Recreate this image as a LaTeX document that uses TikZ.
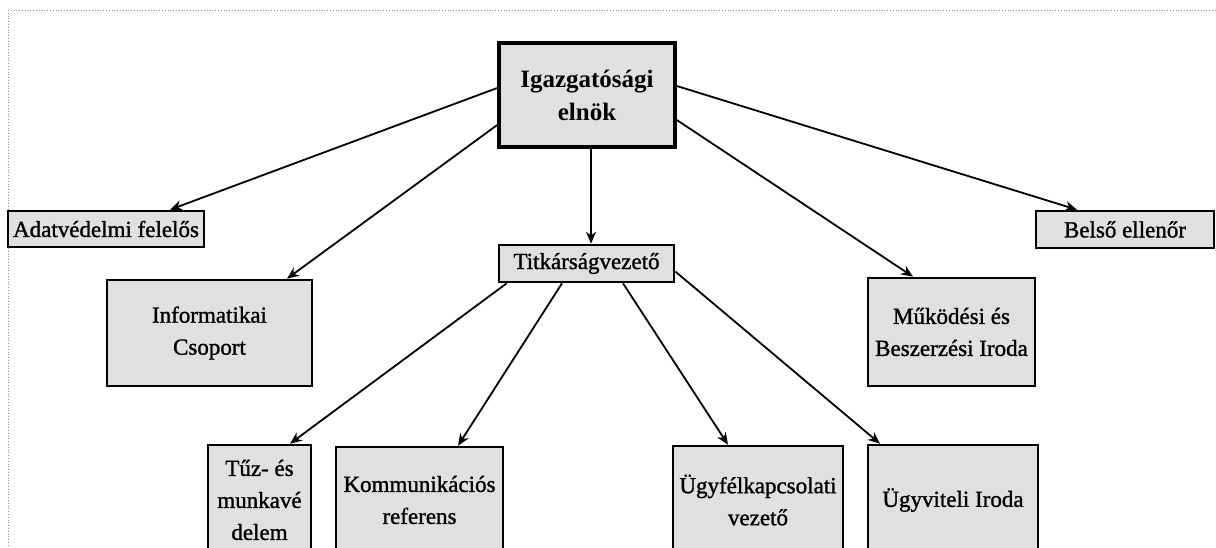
\documentclass[tikz,border=0pt]{standalone}
\usepackage{fontspec}
\setmainfont{Liberation Serif}
\newfontfamily\scanfont{Liberation Serif}[RawFeature={embolden=1.2}]
\usetikzlibrary{arrows.meta}
\tikzset{
  box/.style={draw=black, line width=2.6pt, fill=black!12, align=center,
    inner sep=0pt, font=\fontsize{23}{32}\selectfont\scanfont},
  topbox/.style={box, line width=3.6pt, font=\fontsize{25}{33}\selectfont\bfseries},
  conn/.style={line width=1.8pt, -{Stealth[length=12pt,width=10pt]}},
  scanline/.style={black!45, line width=0.8pt, dotted}
}
\begin{document}
\begin{tikzpicture}[x=1pt,y=-1pt]
\useasboundingbox (0,0) rectangle (1216,548);
\draw[scanline] (8,10) -- (1216,10);
\draw[scanline] (8,10) -- (8,548);

\node[topbox, minimum width=176pt, minimum height=104pt] (top) at (587,95) {Igazgatósági\\elnök};
\node[box, minimum width=196pt, minimum height=36pt] (adat) at (106,229) {Adatvédelmi felelős};
\node[box, minimum width=205pt, minimum height=106pt] (info) at (209.5,333) {Informatikai\\Csoport};
\node[box, minimum width=175pt, minimum height=37pt] (titk) at (586.5,263.5) {Titkárságvezető};
\node[box, minimum width=178pt, minimum height=37pt] (belso) at (1125,229.5) {Belső ellenőr};
\node[box, minimum width=167pt, minimum height=108pt] (mukod) at (951.5,332) {Működési és\\Beszerzési Iroda};
\node[box, minimum width=103pt, minimum height=110pt] (tuz) at (259.5,500) {Tűz- és\\munkavé\\delem};
\node[box, minimum width=167pt, minimum height=106pt] (komm) at (419.5,500) {Kommunikációs\\referens};
\node[box, minimum width=170pt, minimum height=108pt] (ugyf) at (758,500) {Ügyfélkapcsolati\\vezető};
\node[box, minimum width=170pt, minimum height=110pt] (ugyv) at (953,500) {Ügyviteli Iroda};

\draw[conn] ([yshift=7pt]top.west) -- ([xshift=64pt]adat.north);
\draw[conn] ([yshift=-30pt]top.west) -- ([xshift=77.5pt]info.north);
\draw[conn] ([xshift=4pt]top.south) -- ([xshift=4.5pt]titk.north);
\draw[conn] ([yshift=9pt]top.east) -- ([xshift=-48pt]belso.north);
\draw[conn] ([yshift=-25pt]top.east) -- ([xshift=-38.5pt]mukod.north);

\draw[conn] ([xshift=9pt]titk.south west) -- ([xshift=30.5pt]tuz.north);
\draw[conn] ([xshift=-24.5pt]titk.south) -- ([xshift=38.5pt]komm.north);
\draw[conn] ([xshift=36.5pt]titk.south) -- ([xshift=-30pt]ugyf.north);
\draw[conn] ([yshift=-8pt]titk.east) -- ([xshift=-73pt]ugyv.north);
\end{tikzpicture}
\end{document}
